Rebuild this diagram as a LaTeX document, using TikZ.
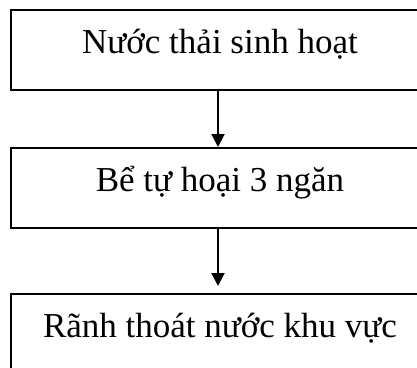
\documentclass[tikz,border=0pt]{standalone}
\usepackage{fontspec}
\setmainfont{Liberation Serif}
\usetikzlibrary{arrows.meta}

\begin{document}
\begin{tikzpicture}[x=1bp,y=-1bp,
  stagebox/.style={draw=black, line width=2bp, rectangle, inner sep=0pt,
    minimum width=417bp, text height=43bp, text depth=37bp,
    font=\fontsize{35bp}{40bp}\selectfont, anchor=north},
  flow/.style={draw=black, line width=2bp,
    -{Triangle[width=13bp,length=13bp]}}]
  \useasboundingbox (0,0) rectangle (417,368);

  % the three stages, top to bottom
  \node[stagebox] (src)  at (220,9)   {Nước thải sinh hoạt};
  \node[stagebox] (tank) at (220,147) {Bể tự hoại 3 ngăn};
  \node[stagebox] (ditch) at (220,293) {Rãnh thoát nước khu vực};

  % vertical flow line
  \coordinate (axis) at (218,0);
  \draw[flow] (src.south -| axis) -- (tank.north -| axis);
  \draw[flow, shorten >=7bp] (tank.south -| axis) -- (ditch.north -| axis);
\end{tikzpicture}
\end{document}
